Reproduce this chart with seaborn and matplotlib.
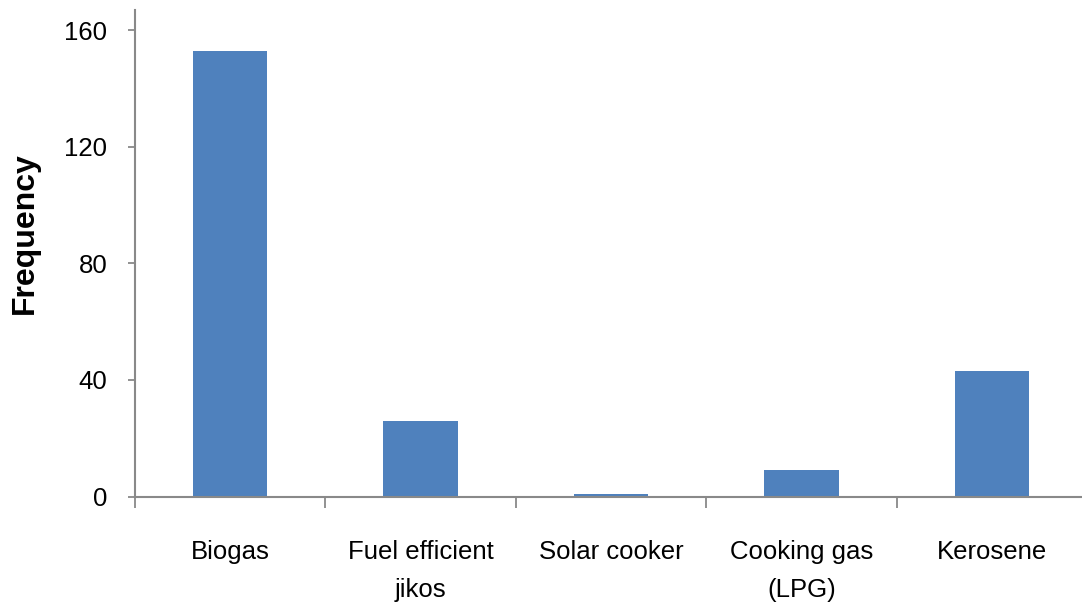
import matplotlib
matplotlib.use("Agg")
import matplotlib.pyplot as plt
import seaborn as sns
import pandas as pd

# Chart data
categories = ["Biogas", "Fuel efficient\njikos", "Solar cooker", "Cooking gas\n(LPG)", "Kerosene"]
frequency = [153, 26, 1, 9, 43]
y_ticks = [0, 40, 80, 120, 160]

df = pd.DataFrame({"Fuel": categories, "Frequency": frequency})

sns.set_theme(style="white")
plt.rcParams['font.family'] = ['Liberation Sans', 'DejaVu Sans']
plt.rcParams['text.color'] = 'black'
plt.rcParams['xtick.color'] = 'black'
plt.rcParams['ytick.color'] = 'black'
plt.rcParams['axes.labelcolor'] = 'black'

axis_grey = "#898989"
bar_blue = "#4f81bd"

fig = plt.figure(figsize=(10.82, 6.07), dpi=100)
ax = fig.add_axes([0.1248, 0.182, 0.8798, 0.8015])

sns.barplot(data=df, x="Fuel", y="Frequency", color=bar_blue, width=0.39,
            saturation=1, linewidth=0, ax=ax)

ax.set_xlim(-0.5, len(categories) - 0.5)
ax.set_ylim(0, 167)
ax.set_yticks(y_ticks)
ax.set_yticklabels([str(v) for v in y_ticks], fontsize=18.5)

# category ticks sit on the boundaries between bars, labels centred under bars
ax.set_xticks([i - 0.5 for i in range(len(categories) + 1)], minor=False)
ax.set_xticklabels([])
ax.set_xticks(range(len(categories)), minor=True)
ax.set_xticklabels(categories, minor=True, fontsize=18.5, linespacing=1.75)
ax.tick_params(axis="x", which="major", direction="out", length=8, width=1.3,
               color=axis_grey, bottom=True)
ax.tick_params(axis="x", which="minor", length=0, pad=31, bottom=True)
ax.tick_params(axis="y", direction="out", length=5, width=1.3, color=axis_grey,
               left=True, pad=15)

for side in ["top", "right"]:
    ax.spines[side].set_visible(False)
for side in ["left", "bottom"]:
    ax.spines[side].set_color(axis_grey)
    ax.spines[side].set_linewidth(1.5)

ax.set_xlabel("")
ax.set_ylabel("Frequency", fontsize=23, fontweight="bold")
ax.yaxis.set_label_coords(-0.1, 0.542)

fig.savefig("out.png", dpi=100)
